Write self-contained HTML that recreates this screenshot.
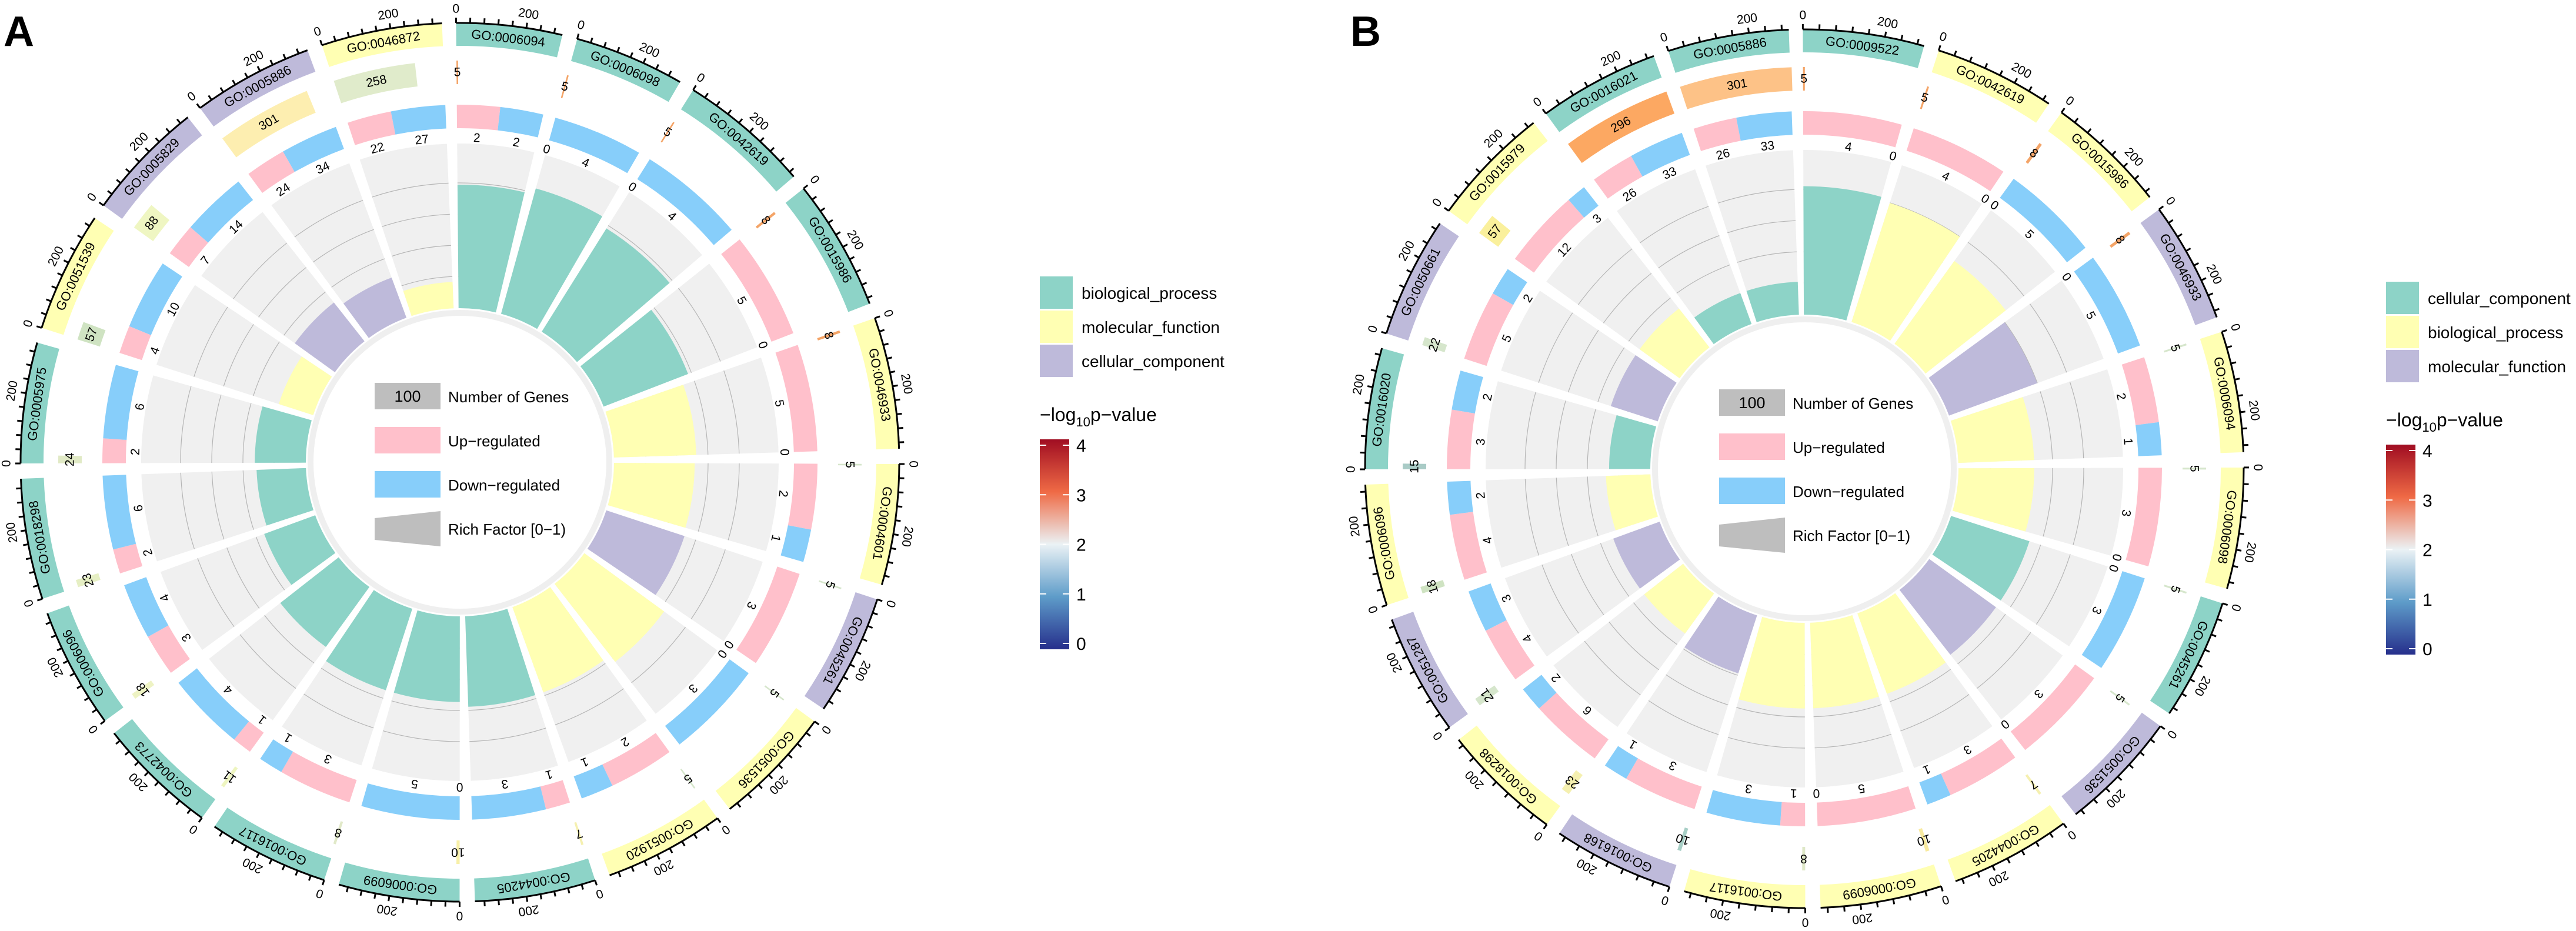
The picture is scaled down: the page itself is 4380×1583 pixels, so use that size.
<!DOCTYPE html>
<html><head><meta charset="utf-8">
<style>
html,body{margin:0;padding:0;background:#fff;}
svg{display:block;}
text{font-family:"Liberation Sans",Arial,sans-serif;fill:#000;}
</style></head>
<body>
<svg id="fig" xmlns="http://www.w3.org/2000/svg" width="4380" height="1583" viewBox="0 0 4380 1583">
<text x="6" y="78" font-size="72" font-weight="bold">A</text>
<text x="2296" y="78" font-size="72" font-weight="bold">B</text>
<g id="panelA"></g>
<g id="panelB"></g>
<g id="legends"></g>
</svg>
<script>
// ---------- Panel A data ----------
const A_terms = ["GO:0006094","GO:0006098","GO:0042619","GO:0015986","GO:0046933","GO:0004601","GO:0045261","GO:0051536","GO:0051920","GO:0044205","GO:0006099","GO:0016117","GO:0042773","GO:0006096","GO:0018298","GO:0005975","GO:0051539","GO:0005829","GO:0005886","GO:0046872"];
const A_cat = [0,0,0,0,1,1,2,1,1,0,0,0,0,0,0,0,1,2,2,1];
const A_size = [304,317,378,378,378,347,347,347,347,347,347,347,347,347,347,347,347,347,347,347];
const A_count = [5,5,5,8,8,5,5,5,5,7,10,8,11,18,23,24,57,88,301,258];
const A_countColor = ["#f4a467","#f4a467","#f4a467","#f4a467","#f4a467","#d6e6cc","#d6e6cc","#d6e6cc","#d6e6cc","#f5f0b0","#f8f0a8","#e1e9c8","#eef5c0","#eef3c4","#e6efc4","#e1eac6","#cfe3c2","#eff6c2","#fdeeb0","#e0ebcb"];
const A_up = [2,0,0,5,5,2,3,0,2,1,0,3,1,3,2,2,4,7,24,22];
const A_down = [2,4,4,0,0,1,0,3,1,3,5,1,4,4,6,6,10,14,34,27];
const A_rich = [0.75,0.79,0.74,0.55,0.5,0.49,0.5,0.6,0.55,0.55,0.52,0.52,0.45,0.33,0.3,0.31,0.22,0.3,0.26,0.16];
const A_catNames = ["biological_process","molecular_function","cellular_component"];

// ---------- Panel B data ----------
const B_terms = ["GO:0009522","GO:0042619","GO:0015986","GO:0046933","GO:0006094","GO:0006098","GO:0045261","GO:0051536","GO:0044205","GO:0006099","GO:0016117","GO:0016168","GO:0018298","GO:0051287","GO:0006096","GO:0016020","GO:0050661","GO:0015979","GO:0016021","GO:0005886"];
const B_cat = [0,1,1,2,1,1,0,2,1,1,1,2,1,2,1,0,2,1,0,0];
const B_size = [297,297,297,297,297,297,297,297,297,297,297,297,297,297,297,297,297,297,297,297];
const B_count = [5,5,8,8,5,5,5,5,7,10,8,10,23,21,18,15,22,57,296,301];
const B_countColor = ["#f4a467","#f4a467","#f4a467","#f4a467","#d6e6cc","#d6e6cc","#d6e6cc","#d6e6cc","#f5f0b0","#f8eaa0","#dfe8c8","#a8cfc6","#f5f0b0","#d6e6cc","#cfe3c2","#a9cbc6","#d6e6cc","#faf09c","#fca862","#fdc287"];
const B_up = [4,4,0,0,2,3,0,3,3,5,1,3,6,4,4,3,5,12,26,26];
const B_down = [0,0,5,5,1,0,3,0,1,0,3,1,2,3,2,2,2,3,33,33];
const B_rich = [0.78,0.76,0.62,0.57,0.46,0.46,0.5,0.5,0.52,0.52,0.52,0.37,0.3,0.3,0.27,0.25,0.3,0.3,0.2,0.2];
const B_catNames = ["cellular_component","biological_process","molecular_function"];

const catColors = ["#8dd3c7","#ffffb3","#bebada"];
const NS = "http://www.w3.org/2000/svg";

function el(tag, attrs, parent){
  const e = document.createElementNS(NS, tag);
  for (const k in attrs) e.setAttribute(k, attrs[k]);
  parent.appendChild(e);
  return e;
}
function P(cx,cy,r,a){ const t=a*Math.PI/180; return [cx + r*Math.sin(t), cy - r*Math.cos(t)]; }
function ann(cx,cy,r1,r2,a1,a2){
  const L = (a2-a1)>180?1:0;
  const p1=P(cx,cy,r2,a1), p2=P(cx,cy,r2,a2), p3=P(cx,cy,r1,a2), p4=P(cx,cy,r1,a1);
  return `M${p1[0]},${p1[1]} A${r2},${r2} 0 ${L} 1 ${p2[0]},${p2[1]} L${p3[0]},${p3[1]} A${r1},${r1} 0 ${L} 0 ${p4[0]},${p4[1]} Z`;
}
function arc(cx,cy,r,a1,a2){
  const p1=P(cx,cy,r,a1), p2=P(cx,cy,r,a2);
  return `M${p1[0]},${p1[1]} A${r},${r} 0 0 1 ${p2[0]},${p2[1]}`;
}
function rtext(g,cx,cy,r,a,str,size){
  const p=P(cx,cy,r,a);
  const t = el("text",{x:0,y:0,"font-size":size,"text-anchor":"middle","dominant-baseline":"central",transform:`translate(${p[0]},${p[1]}) rotate(${a})`},g);
  t.textContent = str;
  return t;
}

function drawPanel(g, cx, cy, start, k, terms, cats, sizes, counts, countColors, ups, downs, rich){
  const gap = 2;
  const R = {axis:747, outIn:708, cntIn:643, cntOut:683, udIn:568, udOut:608, trIn:262, trOut:542};
  const ring = el("circle",{cx:cx,cy:cy,r:254,fill:"none",stroke:"#efefef","stroke-width":10},g);
  
  
  let a = start;
  for (let i=0;i<terms.length;i++){
    const a1 = a, a2 = a + sizes[i]*k;
    a = a2 + gap;
    const sg = el("g",{},g);
    
    
    const ob = el("path",{d:ann(cx,cy,R.outIn,R.axis,a1,a2),fill:catColors[cats[i]]},sg);
    
    
    const lab = rtext(sg,cx,cy,726,(a1+a2)/2,terms[i],22);
    
    
    const ax = el("path",{d:arc(cx,cy,R.axis,a1,a2),fill:"none",stroke:"#000","stroke-width":3},sg);
    
    
    for (let v=0; v<=sizes[i]; v+=40){
      const ta = a1 + v*k;
      const p1=P(cx,cy,R.axis,ta), p2=P(cx,cy,R.axis+9,ta);
      const tk = el("line",{x1:p1[0],y1:p1[1],x2:p2[0],y2:p2[1],stroke:"#000","stroke-width":3},sg);
      
      
      if (v===0 || v===200){
        const tl = rtext(sg,cx,cy,771,ta,String(v),21);
        
        
      }
    }
    const ce = a1 + counts[i]*k;
    const cb = el("path",{d:ann(cx,cy,R.cntIn,R.cntOut,a1,ce),fill:countColors[i]},sg);
    
    
    const ct = rtext(sg,cx,cy,663,(a1+ce)/2,String(counts[i]),21);
    
    
    const tot = ups[i]+downs[i];
    const am = a1 + (a2-a1)*(tot? ups[i]/tot : 0);
    if (ups[i]>0){
      const ub = el("path",{d:ann(cx,cy,R.udIn,R.udOut,a1,am),fill:"#ffc0cb"},sg);
      
      
    }
    if (downs[i]>0){
      const db = el("path",{d:ann(cx,cy,R.udIn,R.udOut,am,a2),fill:"#87cefa"},sg);
      
      
    }
    const ut = rtext(sg,cx,cy,552,(a1+am)/2,String(ups[i]),21);
    
    
    const dt = rtext(sg,cx,cy,552,(am+a2)/2,String(downs[i]),21);
    
    
    const tr = el("path",{d:ann(cx,cy,R.trIn,R.trOut,a1,a2),fill:"#f0f0f0"},sg);
    
    
    [316,369,422,475].forEach(r=>{
      const gl = el("path",{d:arc(cx,cy,r,a1,a2),fill:"none",stroke:"#b5b5b5","stroke-width":1.2},sg);
      
      
    });
    const rb = el("path",{d:ann(cx,cy,R.trIn,R.trIn + rich[i]*(R.trOut-R.trIn),a1,a2),fill:catColors[cats[i]]},sg);
    
    
  }
  const lg = el("g",{},g);
  
  
  const bx = cx-145, bw = 112, tx = cx-20;
  const b1 = el("rect",{x:bx,y:cy-135,width:bw,height:45,fill:"#bebebe"},lg);
  
  
  const b1t = el("text",{x:bx+bw/2,y:cy-103,"font-size":27,"text-anchor":"middle"},lg); b1t.textContent="100";
  
  
  const b2 = el("rect",{x:bx,y:cy-60,width:bw,height:45,fill:"#ffc0cb"},lg);
  
  
  const b3 = el("rect",{x:bx,y:cy+15,width:bw,height:45,fill:"#87cefa"},lg);
  
  
  const b4 = el("polygon",{points:`${bx},${cy+95} ${bx+bw},${cy+83} ${bx+bw},${cy+143} ${bx},${cy+132}`,fill:"#bebebe"},lg);
  
  
  const labels = ["Number of Genes","Up\u2212regulated","Down\u2212regulated","Rich Factor [0\u22121)"];
  const ys = [cy-102, cy-27, cy+48, cy+123];
  labels.forEach((s,j)=>{
    const t = el("text",{x:tx,y:ys[j],"font-size":26},lg);
    t.textContent = s;
    
    
  });
}

function drawLegend(g, x, y0, names){
  for (let j=0;j<3;j++){
    const r = el("rect",{x:x,y:y0+j*58,width:56,height:55,fill:catColors[j]},g);
    
    
    const t = el("text",{x:x+71,y:y0+j*58+38,"font-size":28},g);
    t.textContent = names[j];
    
    
  }
  const ty = y0+246;
  const tt = el("text",{x:x,y:ty,"font-size":32},g);
  tt.innerHTML = '\u2212log<tspan font-size="22" dy="9">10</tspan><tspan dy="-9">p\u2212value</tspan>';
  
  
  const cbY = y0+277, cbH = 357;
  const cb = el("rect",{x:x,y:cbY,width:50,height:cbH,fill:"url(#rdbu)"},g);
  
  
  for (let v=0; v<=4; v++){
    const yy = cbY + cbH - 10 - v*(cbH-20)/4;
    el("line",{x1:x,y1:yy,x2:x+11,y2:yy,stroke:"#fff","stroke-width":2},g);
    el("line",{x1:x+39,y1:yy,x2:x+50,y2:yy,stroke:"#fff","stroke-width":2},g);
    const lt = el("text",{x:x+62,y:yy+11,"font-size":30},g);
    lt.textContent = String(v);
    
    
  }
}

const svg = document.getElementById("fig");
const defs = el("defs",{},svg);
const grad = el("linearGradient",{id:"rdbu",x1:0,y1:0,x2:0,y2:1},defs);
[["0","#a00d22"],["0.25","#ef6a45"],["0.5","#ebf2f5"],["0.75","#5e9cc9"],["1","#262f8c"]].forEach(s=>el("stop",{offset:s[0],"stop-color":s[1]},grad));

drawPanel(document.getElementById("panelA"), 782, 786, -0.5, 0.046, A_terms, A_cat, A_size, A_count, A_countColor, A_up, A_down, A_rich);
drawPanel(document.getElementById("panelB"), 3068, 797, -0.2, 0.0539, B_terms, B_cat, B_size, B_count, B_countColor, B_up, B_down, B_rich);
const lgs = document.getElementById("legends");
drawLegend(lgs, 1768, 470, A_catNames);
drawLegend(lgs, 4057, 479, B_catNames);
</script>
</body></html>
